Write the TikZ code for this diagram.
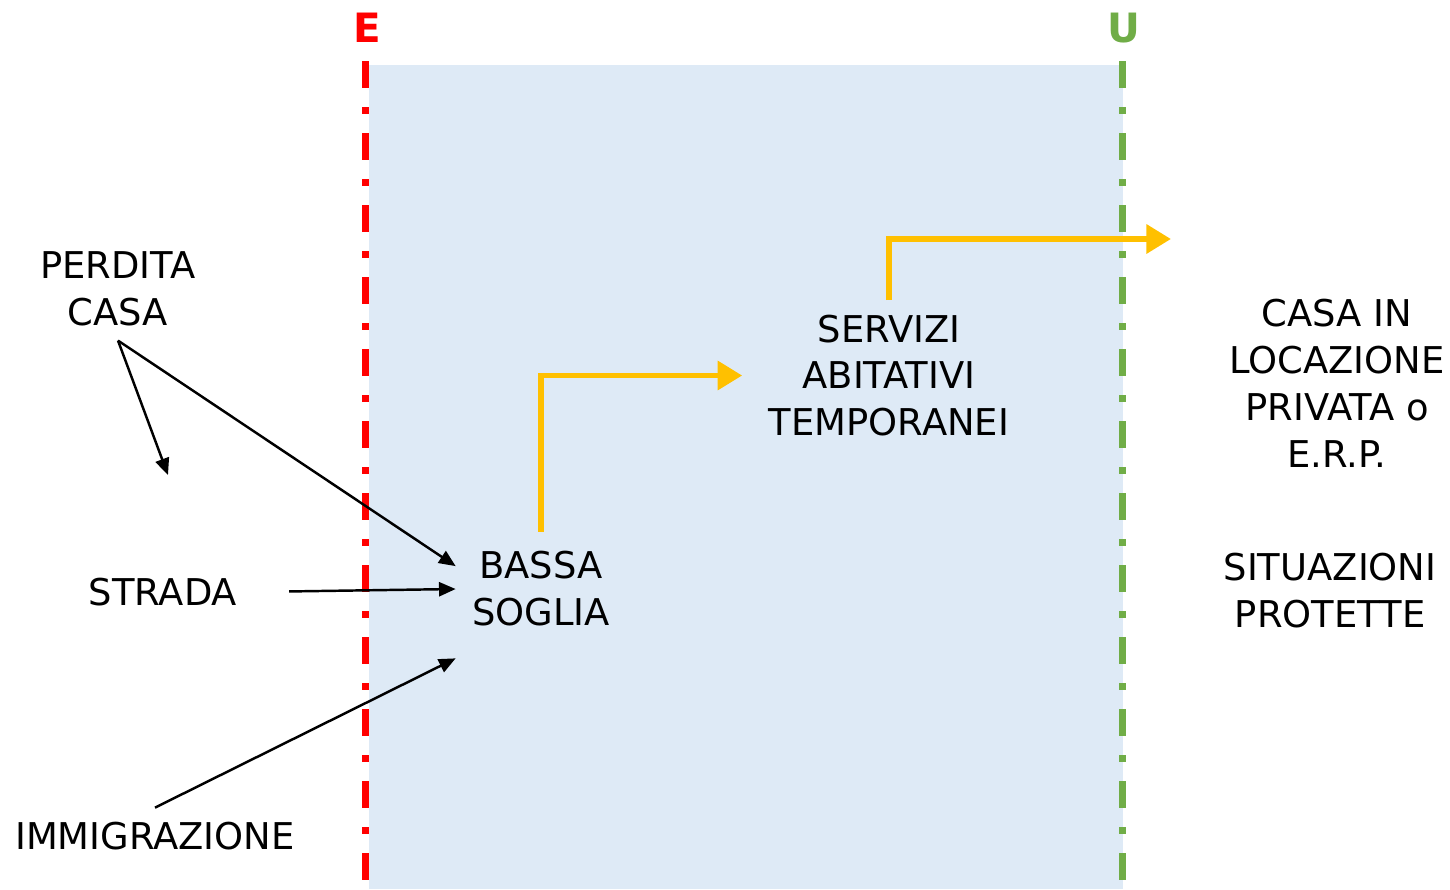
\documentclass[tikz,border=0pt]{standalone}
\usepackage{fontspec}
\setmainfont{DejaVu Sans}
\usetikzlibrary{arrows.meta,positioning}
\definecolor{entryred}{HTML}{FF0000}
\definecolor{exitgreen}{HTML}{70AD47}
\definecolor{pathyellow}{HTML}{FFC000}
\definecolor{softblue}{HTML}{DEEAF6}
\tikzset{
  textnode/.style={align=center, font=\fontsize{21}{26.7}\selectfont, inner sep=8pt},
  gate/.style={font=\fontsize{23}{26}\selectfont\bfseries, inner sep=0pt},
  border/.style={line width=4pt, dash pattern=on 15.4pt off 10.8pt on 4pt off 10.8pt},
  flow/.style={black, line width=1.4pt, -{Triangle[length=9.5pt,width=8pt]}},
  pathway/.style={pathyellow, line width=3.4pt, -{Triangle[length=14pt,width=16pt]}}
}
\begin{document}
\begin{tikzpicture}[x=0.02cm, y=-0.02cm]
  \useasboundingbox (0,0) rectangle (1450,889);
  % zona dei servizi tra entrata e uscita
  \fill[softblue] (369,65) rectangle (1123,889);
  \draw[border, entryred] (365.5,61) -- (365.5,889);
  \draw[border, exitgreen] (1122.5,61) -- (1122.5,889);
  \node[gate, text=entryred] (entrata) at (367,28) {E};
  \node[gate, text=exitgreen] (uscita) at (1124,28) {U};

  \node[textnode] (perdita) at (118,289) {PERDITA\\CASA};
  \node[textnode] (strada) at (163,592) {STRADA};
  \node[textnode] (immig) at (155,836) {IMMIGRAZIONE};
  \node[textnode, minimum width=3.4cm, minimum height=2.76cm, inner sep=0pt] (bassa) at (541,589) {BASSA\\SOGLIA};
  \node[textnode, inner xsep=15pt] (servizi) at (889,375.5) {SERVIZI\\ABITATIVI\\TEMPORANEI};
  \node[textnode] (casa) at (1337,383) {CASA IN\\LOCAZIONE\\PRIVATA o\\E.R.P.};
  \node[textnode] (protette) at (1330,590.5) {SITUAZIONI\\PROTETTE};
  \coordinate (vuoto) at (168,475);
  \coordinate (fuori) at (1171,239);

  % ingressi
  \draw[flow] (perdita.south) -- (vuoto);
  \draw[flow] (perdita.south) -- (bassa.165);
  \draw[flow, shorten <=0.75cm] (strada.east) -- (bassa.west);
  \draw[flow] (immig.north) -- (bassa.south west);
  % percorso verso l'uscita
  \draw[pathway, shorten <=-0.24cm] (bassa.north) |- (servizi.west);
  \draw[pathway] (servizi.north) |- (fuori);
\end{tikzpicture}
\end{document}
